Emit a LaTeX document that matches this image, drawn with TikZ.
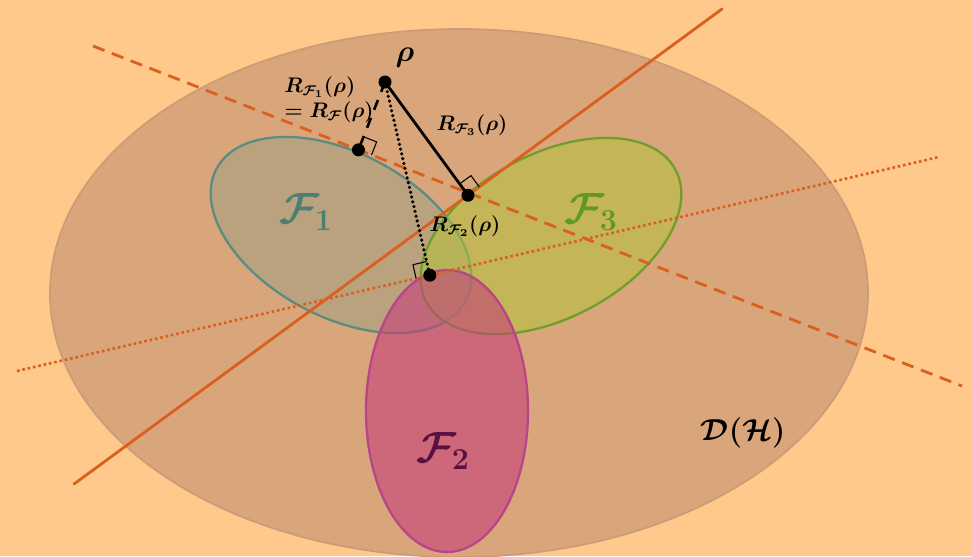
\documentclass[tikz,border=0pt]{standalone}
\usepackage{amsmath}
\usepackage{bm}
\usetikzlibrary{calc}
\definecolor{pbg}{HTML}{FFC98B}
\definecolor{pstate}{HTML}{D9A67B}
\definecolor{pstateedge}{HTML}{CC9C78}
\definecolor{porange}{HTML}{D9601E}
\definecolor{pfone}{HTML}{5F9A8A}
\definecolor{pfoneedge}{HTML}{5A8C80}
\definecolor{pfonetxt}{HTML}{4C7F70}
\definecolor{pfthree}{HTML}{B4C23C}
\definecolor{pfthreeedge}{HTML}{6E9E2C}
\definecolor{pfthreetxt}{HTML}{5E9A20}
\definecolor{pftwo}{HTML}{C4407A}
\definecolor{pftwoedge}{HTML}{B8458A}
\definecolor{pftwotxt}{HTML}{5A1040}

\begin{document}
\begin{tikzpicture}[x=0.02cm, y=-0.02cm,
  setline/.style={porange, line width=1.6pt, line cap=round},
  rtmark/.style={black, line width=0.6pt},
  lbl/.style={font=\fontsize{12}{14}\selectfont\boldmath, inner sep=0pt}]

  %% background and D(H)
  \fill[pbg] (0,0) rectangle (972,556);
  \useasboundingbox (0,0) rectangle (972,556);
  \filldraw[fill=pstate, draw=pstateedge, line width=1pt] (459,293) ellipse (409 and 264);

  %% the three sets F_1, F_3, F_2
  \filldraw[fill=pfone, fill opacity=0.25, draw=pfoneedge, line width=1.3pt]
    [shift={(341,235)}, rotate=-28] (0,0) ellipse (141 and 82);
  \filldraw[fill=pfthree, fill opacity=0.55, draw=pfthreeedge, line width=1.3pt]
    [shift={(551,236)}, rotate=28] (0,0) ellipse (141 and 82);
  \filldraw[fill=pftwo, fill opacity=0.6, draw=pftwoedge, line width=1.3pt]
    (447,411) ellipse (81 and 141);

  %% the three lines
  \coordinate (solidA) at (74,484);
  \coordinate (solidB) at (722,9);
  \coordinate (dashA) at (93,46);
  \coordinate (dashB) at (962,386);
  \coordinate (dotA) at (17,371);
  \coordinate (dotB) at (939,157);
  \draw[setline] (solidA) -- (solidB);
  \draw[setline, dash pattern=on 7pt off 4.5pt, line cap=butt] (dashA) -- (dashB);
  \draw[setline, line width=1.5pt, line cap=butt, dash pattern=on 1.5pt off 1.6pt] (dotA) -- (dotB);

  %% rho and its projections
  \coordinate (rho) at (385,82);
  \coordinate (foot1) at ($(dashA)!(rho)!(dashB)$);
  \coordinate (foot3) at ($(solidA)!(rho)!(solidB)$);
  \coordinate (foot2) at ($(dotA)!(rho)!(dotB)$);

  \draw[black, line width=1.6pt] (rho) -- (foot3);
  \draw[black, line width=1.5pt, dash pattern=on 6pt off 5pt] (rho) -- (foot1);
  \draw[black, line width=2pt, line cap=round, dash pattern=on 0pt off 2.8pt] (rho) -- (foot2);

  %% right angle marks
  \foreach \f/\q in {foot1/dashB, foot3/solidB, foot2/dotA}{
    \coordinate (ma) at ($(\f)!8pt!(rho)$);
    \coordinate (mb) at ($(\f)!8pt!(\q)$);
    \draw[rtmark] (ma) -- ($(ma)+(mb)-(\f)$) -- (mb);
  }

  \foreach \p in {rho, foot1, foot3, foot2}{
    \fill[black] (\p) circle (6.5);
  }

  %% labels
  \node[lbl, font=\fontsize{17}{20}\selectfont\boldmath] (rholbl) at (405,58) {$\rho$};
  \node[lbl, anchor=west] (rfone) at (284,87) {$R_{\mathcal{F}_1}(\rho)$};
  \node[lbl, anchor=west] (rf) at (284,112) {$=R_{\mathcal{F}}(\rho)$};
  \node[lbl] (rfthree) at (472,125) {$R_{\mathcal{F}_3}(\rho)$};
  \node[lbl] (rftwo) at (465,226) {$R_{\mathcal{F}_2}(\rho)$};

  \node[lbl, font=\fontsize{23}{26}\selectfont\boldmath, text=pfonetxt] (fone) at (306,212) {$\mathcal{F}_1$};
  \node[lbl, font=\fontsize{23}{26}\selectfont\boldmath, text=pfthreetxt] (fthree) at (591,212) {$\mathcal{F}_3$};
  \node[lbl, font=\fontsize{23}{26}\selectfont\boldmath, text=pftwotxt] (ftwo) at (443,451) {$\mathcal{F}_2$};
  \node[lbl, font=\fontsize{17}{20}\selectfont\boldmath] (dh) at (743,433) {$\mathcal{D}(\mathcal{H})$};

\end{tikzpicture}
\end{document}
